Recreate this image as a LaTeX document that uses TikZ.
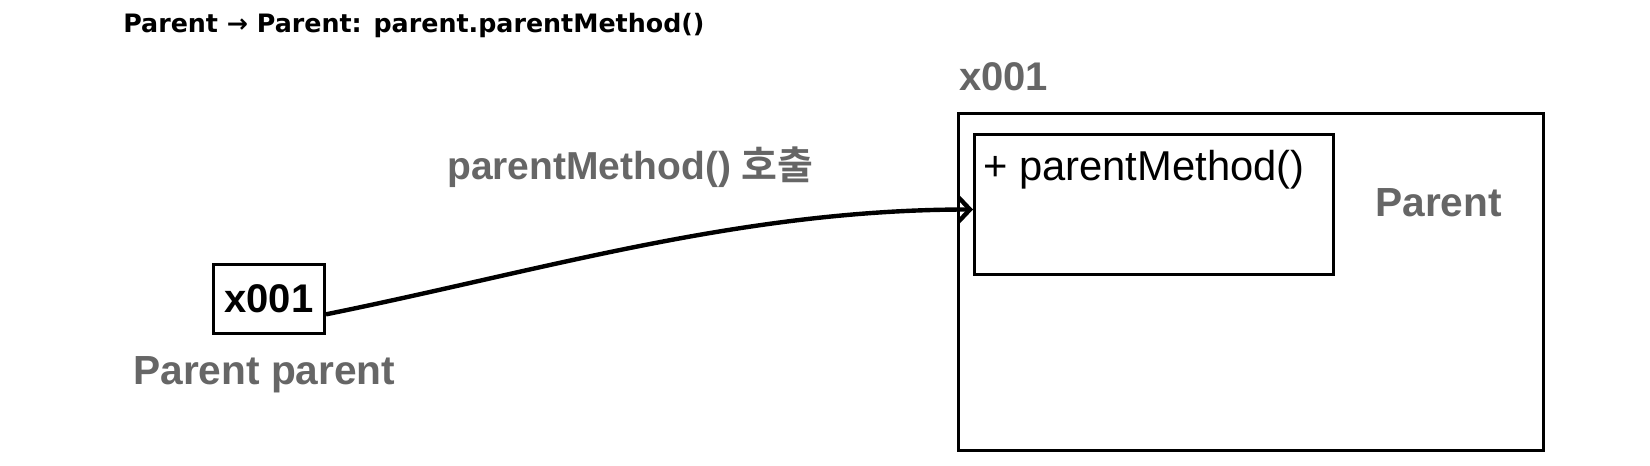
\documentclass[tikz,border=0pt]{standalone}
\usepackage{fontspec}
\setmainfont{Liberation Sans}
\newfontfamily\titlefont{DejaVu Sans}
\newfontfamily\krfont{Noto Sans CJK KR}[BoldFont={Noto Sans CJK KR Bold}]
\usetikzlibrary{arrows.meta}

\definecolor{memgray}{RGB}{102,102,102}
\tikzset{
  membox/.style={draw, line width=2.25pt, inner sep=0pt, anchor=north west},
  graylbl/.style={text=memgray, inner sep=0pt, anchor=base west, font=\fontsize{30.5}{36}\selectfont\bfseries},
  callarrow/.style={line width=3.3pt, -{Straight Barb[length=8.5pt,width=18pt]}}
}

\begin{document}
\begin{tikzpicture}[x=0.75pt,y=0.75pt,yscale=-1,xscale=1]
\useasboundingbox (0,0) rectangle (1650,466);

% Text Node
\draw (123,33) node [anchor=base west][inner sep=0pt][font=\titlefont\fontsize{19}{23}\selectfont\bfseries] (title) {Parent → Parent: parent.parentMethod()};

%Shape: Rectangle (instance)
\node [membox, minimum width=438.75pt, minimum height=252.75pt] (obj) at (957,112) {};
%Shape: Rectangle (method)
\node [membox, minimum width=269.25pt, minimum height=105pt] (method) at (973,133) {};
%Shape: Rectangle (reference)
\node [membox, minimum width=83.25pt, minimum height=51.75pt, font=\fontsize{30}{36}\selectfont\bfseries] (ref) at (212,263) {x001};

% Text Node
\draw (959,91) node [graylbl][font=\fontsize{30}{36}\selectfont\bfseries] (addr) {x001};
% Text Node
\draw (983,181) node [anchor=base west][inner sep=0pt][font=\fontsize{31.3}{36}\selectfont] (mtxt) {+ parentMethod()};
% Text Node
\draw (1375,217) node [graylbl] (cls) {Parent};
% Text Node
\draw (133,385) node [graylbl] (var) {Parent parent};
% Text Node
\draw (447,180) node [graylbl][font=\fontsize{29.25}{34}\selectfont\bfseries] (call) {parentMethod() {\krfont 호출}};

%Curve Lines
\draw [callarrow] ([yshift=11.5pt]ref.east) .. controls +(217,-44) and +(-233,0) .. ([yshift=3.75pt]method.west);

\end{tikzpicture}
\end{document}
